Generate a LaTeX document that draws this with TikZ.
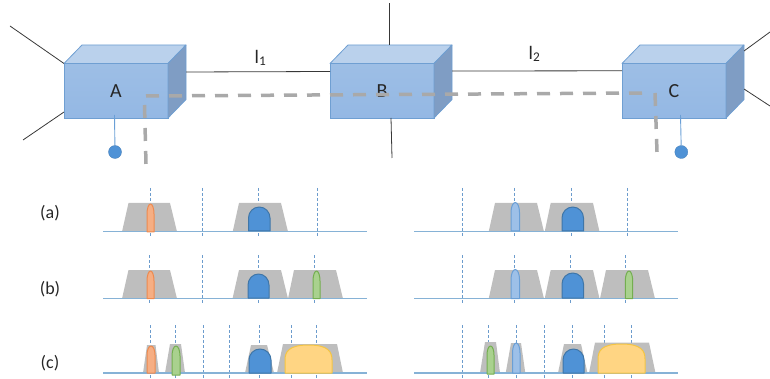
\documentclass[tikz,border=0pt]{standalone}
\usepackage{fontspec}
\setmainfont{Carlito}
\usetikzlibrary{calc}
\definecolor{cubefr}{HTML}{94B8E4}
\definecolor{cubefrt}{HTML}{9DBEE5}
\definecolor{cubetop}{HTML}{BAD1EC}
\definecolor{cubeside}{HTML}{7F9DC4}
\definecolor{cubeline}{HTML}{6F9FD2}
\definecolor{wire}{HTML}{383838}
\definecolor{pathgray}{HTML}{A9A9A9}
\definecolor{trapgray}{HTML}{BEBEBE}
\definecolor{base}{HTML}{86B2D6}
\definecolor{tick}{HTML}{6C9CCD}
\definecolor{oF}{HTML}{F6AE83}\definecolor{oD}{HTML}{EE8A4F}
\definecolor{bF}{HTML}{4F92D6}\definecolor{bD}{HTML}{3F76A8}
\definecolor{lF}{HTML}{9DC0E8}\definecolor{lD}{HTML}{6A9FD6}
\definecolor{gF}{HTML}{A9D18E}\definecolor{gD}{HTML}{74AE50}
\definecolor{yF}{HTML}{FFD583}\definecolor{yD}{HTML}{F5C542}
\tikzset{
  cubefront/.style={rectangle,draw=cubeline,line width=.8pt,top color=cubefrt,bottom color=cubefr,
    minimum width=104pt,minimum height=54.5pt,inner sep=0pt,outer sep=0pt,font=\fontsize{20}{22}\selectfont,text=black!85},
  cubeface/.style={draw=cubeline,line width=.8pt,line join=round},
  wireline/.style={draw=wire,line width=.8pt},
  pinline/.style={draw=lD,line width=.9pt},
  pin/.style={circle,fill=bF,draw=bF!85!black,line width=.3pt,minimum size=13pt,inner sep=0pt},
  pathline/.style={draw=pathgray,line width=3.5pt,dash pattern=on 13pt off 10pt},
  linklabel/.style={font=\fontsize{19}{21}\selectfont,text=black!85},
  rowlabel/.style={font=\fontsize{18}{20}\selectfont,text=black!85},
  baseline/.style={draw=base,line width=1.1pt},
  tickline/.style={draw=tick,line width=.8pt,dash pattern=on 3pt off 2pt},
  trap/.style={fill=trapgray,draw=none},
  dome/.style={line width=1pt,line join=round}
}
% trapezoid: bottom-left, top-left, top-right, bottom-right, top y, bottom y
\newcommand{\trapz}[6]{\path[trap] (#1,#6) -- (#2,#5) -- (#3,#5) -- (#4,#6) -- cycle;}
% dome: left, right, top y, bottom y, shoulder height, fill, line
\newcommand{\domek}{.28}
\newcommand{\domeshape}[7]{%
  \pgfmathsetmacro{\dm}{(#1+#2)/2}%
  \pgfmathsetmacro{\dk}{(#2-#1)*\domek}%
  \pgfmathsetmacro{\ds}{#3+#5}%
  \pgfmathsetmacro{\dc}{#3+.45*#5}%
  \draw[dome,fill=#6,draw=#7] (#1,#4) -- (#1,\ds) .. controls (#1,\dc) and ({\dm-\dk},#3) .. (\dm,#3)
    .. controls ({\dm+\dk},#3) and (#2,\dc) .. (#2,\ds) -- (#2,#4) -- cycle;}
\begin{document}
\begin{tikzpicture}[x=1pt,y=-1pt]
\path[use as bounding box] (0,0) rectangle (770,379);

% cubes
\node[cubefront] (A) at (116,90.75) {A};
\node[cubefront] (B) at (382,90.75) {B};
\node[cubefront] (C) at (674,90.75) {C};
\foreach \n in {A,B,C}{
  \draw[cubeface,fill=cubetop] (\n.north west) -- ($(\n.north west)+(18,-18.5)$) -- ($(\n.north east)+(18,-18.5)$) -- (\n.north east) -- cycle;
  \draw[cubeface,fill=cubeside] (\n.north east) -- ($(\n.north east)+(18,-18.5)$) -- ($(\n.south east)+(18,-18.5)$) -- (\n.south east) -- cycle;
}

% free ends
\coordinate (a1) at (10,26);
\coordinate (a2) at (23,140);
\coordinate (b1) at (389.5,3);
\coordinate (b2) at (392,158);
\coordinate (c1) at (770,32);
\coordinate (c2) at (770,106);

% links
\draw[wireline] ($(A.north east)+(18,8.5)$) -- (B.west |- 0,71.5);
\draw[wireline] ($(B.north east)+(18,7.5)$) -- (C.west |- 0,70.8);
\draw[wireline] (A.north west) -- (a1);
\draw[wireline] ($(A.south west)+(0,-6)$) -- (a2);
\draw[wireline] (389.5,45) -- (b1);
\draw[wireline] (391,118) -- (b2);
\draw[wireline] ($(C.north east)+(18,-12.5)$) -- (c1);
\draw[wireline] ($(C.north east)+(18,25.5)$) -- (c2);
\node[linklabel] (l1) at (260.5,58) {l\textsubscript{1}};
\node[linklabel] (l2) at (534.5,54) {l\textsubscript{2}};

% client pins
\node[pin] (pa) at (115,152) {};
\node[pin] (pc) at (681.3,152) {};
\draw[pinline] (114.5,115) -- (pa);
\draw[pinline] (680.5,115) -- (pc);

% lightpath
\draw[pathline] (146,96) -- (645,93);
\draw[pathline] (144.5,105) -- (146,164);
\draw[pathline] (655,93) -- (657,152);

% row labels
\node[rowlabel] (ra) at (50,213) {(a)};
\node[rowlabel] (rb) at (50,289) {(b)};
\node[rowlabel] (rc) at (50,363) {(c)};

% ---------- row (a)
\foreach \x in {150.5,202.5,258.5,317.5,462,514.5,571.5,627}{\draw[tickline] (\x,188) -- (\x,237);}
\trapz{122}{128.5}{170}{177}{203}{231.7}
\trapz{232.7}{239}{281}{288}{203}{231.7}
\trapz{488.7}{495}{537}{544}{203}{231.7}
\trapz{544.7}{550.7}{593}{599.5}{203}{231.7}
\draw[baseline] (103,231.7) -- (367,231.7);
\draw[baseline] (414,231.7) -- (678,231.7);
\domeshape{147}{154}{204}{232}{10}{oF}{oD}
\domeshape{248.5}{270}{207}{231}{11}{bF}{bD}
\domeshape{511}{519.5}{202.5}{231}{10}{lF}{lD}
\domeshape{562}{583.5}{207}{231}{11}{bF}{bD}

% ---------- row (b)
\foreach \x in {149.5,202.5,258.5,314,462,514.5,570.5,625.5}{\draw[tickline] (\x,255) -- (\x,304);}
\trapz{122}{128.5}{170}{177}{270}{298.7}
\trapz{232.5}{239}{281}{288}{270}{298.7}
\trapz{288}{294}{336}{343}{270}{298.7}
\trapz{488.7}{495}{537}{544}{270}{298.7}
\trapz{544.7}{550.7}{593}{599.5}{270}{298.7}
\trapz{600}{606}{648}{655}{270}{298.7}
\draw[baseline] (103,298.7) -- (367,298.7);
\draw[baseline] (414,298.7) -- (678,298.7);
\domeshape{147}{154}{271}{298.7}{10}{oF}{oD}
\domeshape{248}{269}{274}{298}{11}{bF}{bD}
\domeshape{313}{320}{271}{298.7}{10}{gF}{gD}
\domeshape{511}{519.5}{269.5}{298.7}{10}{lF}{lD}
\domeshape{562}{583.5}{273}{298}{11}{bF}{bD}
\domeshape{625.3}{632.7}{271}{298.7}{10}{gF}{gD}

% ---------- row (c)
\foreach \x in {150,175,203,229.5,259,291,316.5,462.5,488.5,516,544,572,604.5,631}{\draw[tickline] (\x,325) -- (\x,378);}
\trapz{143}{147}{155.5}{159}{345}{373}
\trapz{165}{170}{181}{185}{344}{373}
\trapz{245}{251}{267}{274}{345}{373}
\trapz{277}{283}{337}{343}{344}{373}
\trapz{480}{485}{496}{500}{342}{373}
\trapz{505.7}{511}{521}{525.3}{343}{373}
\trapz{558}{564}{581}{587.5}{344}{373}
\trapz{589}{595}{649}{655.5}{342.5}{373}
\draw[baseline] (103,373) -- (367,373);
\draw[baseline] (414,373) -- (678,373);
\domeshape{147}{155}{346}{373}{9}{oF}{oD}
\domeshape{172}{180}{346}{375}{10}{gF}{gD}
\domeshape{249}{271}{349}{373}{11}{bF}{bD}
\renewcommand{\domek}{.42}
\domeshape{285}{332}{345}{373}{15}{yF}{yD}
\renewcommand{\domek}{.28}
\domeshape{487}{494}{346}{374}{9}{gF}{gD}
\domeshape{512.5}{520}{343}{373}{10}{lF}{lD}
\domeshape{563}{584}{349}{373}{11}{bF}{bD}
\renewcommand{\domek}{.42}
\domeshape{598}{645}{344}{373}{15}{yF}{yD}
\end{tikzpicture}
\end{document}
